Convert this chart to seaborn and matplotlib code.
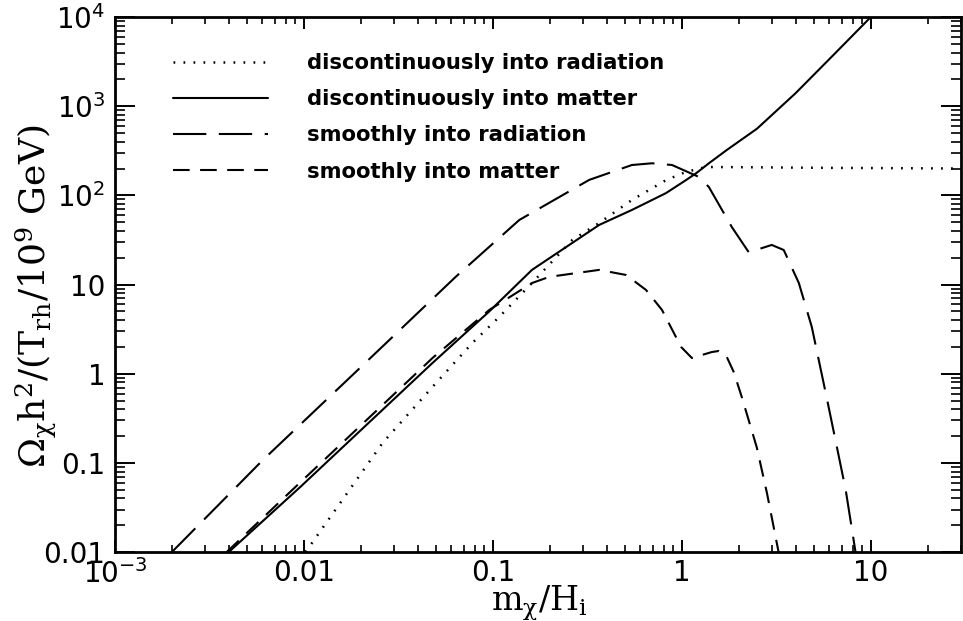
import numpy as np
import pandas as pd
import matplotlib
matplotlib.use("Agg")
import matplotlib.pyplot as plt
from matplotlib.ticker import LogLocator, FixedLocator, FixedFormatter, NullFormatter
import seaborn as sns

# curves (x = m_chi/H_i, y = Omega h^2 / (T_rh/1e9 GeV))
disc_rad_x = [0.0102, 0.0261, 0.0479, 0.0778, 0.108, 0.161, 0.263, 0.365, 0.544, 0.824, 1.05, 1.34, 2.0, 5.0, 30.0]
disc_rad_y = [0.01, 0.168, 0.711, 2.21, 4.33, 10.4, 31.6, 49.0, 88.7, 148, 183, 208, 207, 204, 200]

disc_mat_x = [0.0040, 0.0095, 0.0479, 0.0957, 0.161, 0.365, 0.544, 0.824, 1.05, 1.19, 1.39, 1.73, 2.5, 4.0, 6.3, 10.0]
disc_mat_y = [0.01, 0.053, 1.32, 5.0, 14.6, 46.6, 68.6, 106, 148, 177, 229, 323, 560, 1400, 3700, 10000]

smooth_rad_x = [0.002, 0.00607, 0.0197, 0.0638, 0.138, 0.323, 0.544, 0.695, 0.887, 1.23, 1.39, 1.84, 2.26,
                2.99, 3.46, 4.16, 4.87, 5.84, 6.5, 7.36, 8.3]
smooth_rad_y = [0.01, 0.108, 1.15, 12.3, 53, 149, 219, 229, 219, 161, 124, 44, 23,
                27.8, 24.4, 10.4, 3.35, 0.54, 0.18, 0.05, 0.01]

smooth_mat_x = [0.0039, 0.0095, 0.0479, 0.0957, 0.161, 0.199, 0.365, 0.507, 0.646, 0.785, 0.99, 1.13, 1.44,
                1.57, 1.71, 1.88, 2.08, 2.49, 2.82, 3.25]
smooth_mat_y = [0.01, 0.0597, 1.50, 5.19, 10.4, 12.2, 14.6, 12.8, 8.7, 5.19, 2.0, 1.50, 1.75,
                1.8, 1.62, 1.05, 0.54, 0.15, 0.046, 0.01]

labels = ['discontinuously into radiation', 'discontinuously into matter',
          'smoothly into radiation', 'smoothly into matter']

x_ticks = [1e-3, 1e-2, 1e-1, 1, 10]
x_ticklabels = [r'$10^{-3}$', '0.01', '0.1', '1', '10']
y_ticks = [1e-2, 1e-1, 1, 10, 1e2, 1e3, 1e4]
y_ticklabels = ['0.01', '0.1', '1', '10', r'$10^2$', r'$10^3$', r'$10^4$']

sns.set_style('ticks')
plt.rcParams['font.family'] = ['DejaVu Sans']
plt.rcParams['mathtext.fontset'] = 'dejavusans'
plt.rcParams['text.color'] = 'black'
plt.rcParams['axes.labelcolor'] = 'black'

fig = plt.figure(figsize=(9.63, 6.21), dpi=100)
ax = fig.add_axes([0.1194, 0.111, 0.8785, 0.8616])

series = [
    (disc_rad_x, disc_rad_y, (0, (0.7, 3.3)), 1.8),
    (disc_mat_x, disc_mat_y, '-', 1.5),
    (smooth_rad_x, smooth_rad_y, (0, (16, 6)), 1.5),
    (smooth_mat_x, smooth_mat_y, (0, (8, 5)), 1.5),
]
for (xs, ys, ls, w), lab in zip(series, labels):
    df = pd.DataFrame({'x': xs, 'y': ys})
    sns.lineplot(data=df, x='x', y='y', ax=ax, color='black', lw=w,
                 linestyle=ls, label=lab, sort=False, estimator=None)

ax.set_xscale('log')
ax.set_yscale('log')
ax.set_xlim(1e-3, 30)
ax.set_ylim(1e-2, 1e4)

ax.xaxis.set_major_locator(FixedLocator(x_ticks))
ax.xaxis.set_major_formatter(FixedFormatter(x_ticklabels))
ax.yaxis.set_major_locator(FixedLocator(y_ticks))
ax.yaxis.set_major_formatter(FixedFormatter(y_ticklabels))
ax.xaxis.set_minor_locator(LogLocator(base=10, subs=np.arange(2, 10), numticks=20))
ax.yaxis.set_minor_locator(LogLocator(base=10, subs=np.arange(2, 10), numticks=20))
ax.xaxis.set_minor_formatter(NullFormatter())
ax.yaxis.set_minor_formatter(NullFormatter())

ax.tick_params(axis='both', which='both', direction='in', top=True, right=True,
               colors='black', labelcolor='black')
ax.tick_params(axis='x', which='major', length=8.9, width=1.4, pad=5, labelsize=20)
ax.tick_params(axis='x', which='minor', length=4.8, width=1.2)
ax.tick_params(axis='y', which='major', length=14.5, width=1.4, pad=7, labelsize=20)
ax.tick_params(axis='y', which='minor', length=7.5, width=1.2)
for sp in ax.spines.values():
    sp.set_linewidth(2.0)
    sp.set_color('black')

ax.set_xlabel(r'$\mathrm{m_\chi/H_i}$', fontsize=24, math_fontfamily='dejavuserif')
ax.set_ylabel(r'$\mathrm{\Omega_\chi h^2/(T_{rh}/10^9\ GeV)}$', fontsize=26,
              math_fontfamily='dejavuserif')
ax.xaxis.set_label_coords(0.502, -0.058)
ax.yaxis.set_label_coords(-0.066, 0.478)

ax.legend(loc='upper left', bbox_to_anchor=(0.068, 0.932), frameon=False,
          prop={'weight': 'bold', 'size': 15.2}, handlelength=4.5, handletextpad=1.85,
          labelspacing=0.76, borderpad=0, borderaxespad=0, labelcolor='black')

fig.savefig('out.png', dpi=100)
